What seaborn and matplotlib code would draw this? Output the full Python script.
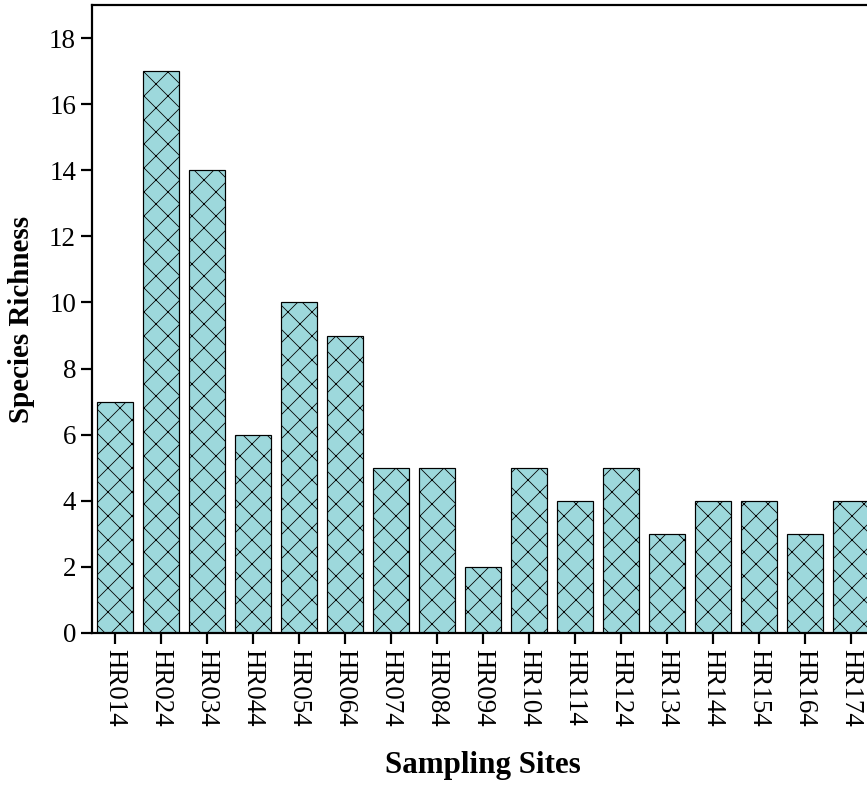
import pandas as pd
import matplotlib
matplotlib.use("Agg")
import matplotlib.pyplot as plt
import seaborn as sns

# Данные
sites = ["HR014", "HR024", "HR034", "HR044", "HR054", "HR064", "HR074", "HR084",
         "HR094", "HR104", "HR114", "HR124", "HR134", "HR144", "HR154", "HR164", "HR174"]
richness = [7, 17, 14, 6, 10, 9, 5, 5, 2, 5, 4, 5, 3, 4, 4, 3, 4]
yticks = [0, 2, 4, 6, 8, 10, 12, 14, 16, 18]


def main():
    df = pd.DataFrame({"site": sites, "richness": richness})

    sns.set_style("ticks")
    plt.rcParams["font.family"] = ["Liberation Serif", "DejaVu Serif"]
    plt.rcParams["hatch.linewidth"] = 0.8
    plt.rcParams["hatch.color"] = "#1a1a1a"

    dpi = 72
    fig = plt.figure(figsize=(867 / dpi, 791 / dpi), dpi=dpi)
    # правый край осей выходит за рамку картинки, как в оригинале
    ax = fig.add_axes([92 / 867, 1 - 633 / 791, 782 / 867, 628 / 791])

    sns.barplot(data=df, x="site", y="richness", color="#9dd8dc", saturation=1,
                edgecolor="black", linewidth=1.2, width=0.78, hatch="x", ax=ax)

    ax.set_xlim(-0.5, len(sites) - 0.5)
    ax.set_ylim(0, 19)
    ax.set_yticks(yticks)
    ax.tick_params(axis="both", direction="out", length=11, width=2.2, labelsize=27,
                   colors="black", pad=5)
    plt.setp(ax.get_xticklabels(), rotation=270)

    for side in ["left", "bottom", "top"]:
        ax.spines[side].set_linewidth(2.2)
        ax.spines[side].set_color("black")
    ax.spines["right"].set_visible(False)

    ax.set_xlabel("Sampling Sites", fontsize=31, fontweight="bold", labelpad=24,
                  color="black")
    ax.set_ylabel("Species Richness", fontsize=29, fontweight="bold", labelpad=14,
                  color="black")

    fig.savefig("out.png", dpi=dpi)
    plt.close(fig)


if __name__ == "__main__":
    main()
